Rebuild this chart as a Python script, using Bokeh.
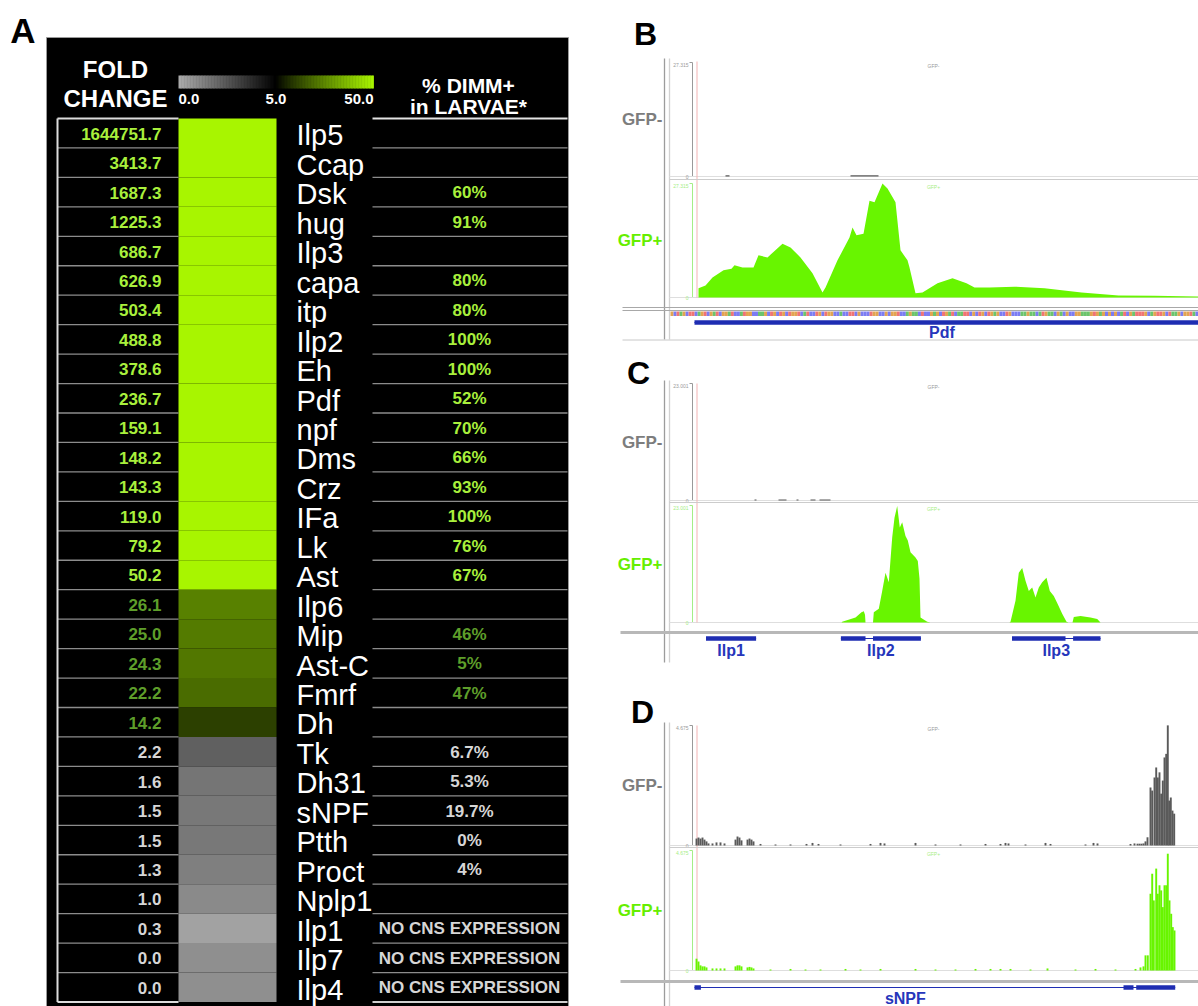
import numpy as np
from bokeh.plotting import figure
from bokeh.models import Range1d
from bokeh.core.properties import value
from bokeh.embed import file_html
from bokeh.resources import INLINE

# ---------------------------------------------------------------------------
# Panel A: fold change (GFP+ / GFP-) of neuropeptide transcripts
# ---------------------------------------------------------------------------
genes = ["Ilp5", "Ccap", "Dsk", "hug", "Ilp3", "capa", "itp", "Ilp2", "Eh", "Pdf",
         "npf", "Dms", "Crz", "IFa", "Lk", "Ast", "Ilp6", "Mip", "Ast-C", "Fmrf",
         "Dh", "Tk", "Dh31", "sNPF", "Ptth", "Proct", "Nplp1", "Ilp1", "Ilp7", "Ilp4"]
fold_change = [1644751.7, 3413.7, 1687.3, 1225.3, 686.7, 626.9, 503.4, 488.8, 378.6, 236.7,
               159.1, 148.2, 143.3, 119.0, 79.2, 50.2, 26.1, 25.0, 24.3, 22.2,
               14.2, 2.2, 1.6, 1.5, 1.5, 1.3, 1.0, 0.3, 0.0, 0.0]
pct_dimm_larvae = ["", "", "60%", "91%", "", "80%", "80%", "100%", "100%", "52%",
                   "70%", "66%", "93%", "100%", "76%", "67%", "", "46%", "5%", "47%",
                   "", "6.7%", "5.3%", "19.7%", "0%", "4%", "",
                   "NO CNS EXPRESSION", "NO CNS EXPRESSION", "NO CNS EXPRESSION"]
scale_ticks = [0.0, 5.0, 50.0]

# ---------------------------------------------------------------------------
# Panels B-D: RNA-seq read coverage (positions in bp from window start)
# ---------------------------------------------------------------------------
pdf_window = [0, 1008]
pdf_plus_pos = [8, 22, 36, 58, 74, 80, 96, 118, 128, 146, 176, 192, 212, 236, 256, 262,
                286, 310, 316, 324, 338, 350, 360, 376, 386, 402, 412, 426, 430, 442,
                456, 486, 516, 544, 560, 590, 640, 700, 774, 848, 920, 1008]
pdf_plus_cov = [2.2, 2.9, 4.8, 6.5, 6.9, 7.7, 7.2, 7.2, 10.1, 9.6, 12.9, 12.0, 9.6, 5.8,
                1.2, 2.4, 8.9, 14.4, 16.8, 14.9, 15.3, 23.2, 22.8, 27.3, 26.1, 22.8,
                11.3, 8.9, 7.2, 1.0, 1.2, 3.4, 4.6, 3.4, 2.4, 2.4, 2.6, 2.2, 1.2, 0.5,
                0.4, 0.25]
pdf_minus_start = [62, 312]
pdf_minus_end = [70, 368]
pdf_minus_cov = [0.3, 0.3]
pdf_seq = ("GCTAGCTTCAGTCGATCGGATCCATGGCCAAGCTGCTGCTGGTCATCCTGCTGGCCACCTTCGCCCTGGCC"
           "GCGGTCCAGAACTCCGAGCTGATCAATTCGCTGCTGAGCCTGCCCAAGAACATGAACGACGCCGGAAAGTG"
           "AGCGCGCATCGATTTGCAGTTGCTAAGCGGTAC")
pdf_seq_span = [-48, 1008]
pdf_gene_names = ["Pdf"]
pdf_gene_spans = [(-18, 1008)]
pdf_gene_exons = [[(-18, 1008)]]

ilp_window = [0, 5040]
ilp_plus_pos = [1470, 1477, 1610, 1670, 1693, 1705, 1710, 1785, 1793, 1843, 1877, 1910,
                1943, 1977, 2000, 2027, 2053, 2077, 2110, 2133, 2160, 2210, 2233, 2250,
                2260, 2327, 2360,
                3150, 3160, 3210, 3243, 3277, 3310, 3343, 3377, 3410, 3443, 3477, 3520,
                3553, 3593, 3633, 3677, 3720, 3740, 3780, 3793, 3860, 3960, 4027, 4060]
ilp_plus_cov = [0, 0.14, 1.0, 2.0, 2.2, 1.5, 0, 0, 2.0, 2.7, 6.2, 9.8, 7.9, 16.7, 20.6,
                22.9, 18.7, 19.7, 17.0, 16.1, 13.8, 12.8, 12.1, 8.6, 1.0, 0.14, 0,
                0, 0.14, 4.3, 9.8, 10.7, 8.2, 6.2, 6.9, 4.9, 6.9, 7.9, 8.8, 6.2, 5.2,
                3.6, 1.7, 0.14, 0, 0, 1.1, 1.3, 1.0, 0.7, 0]
ilp_minus_start = [600, 840, 1020, 1160, 1250]
ilp_minus_end = [620, 920, 1040, 1210, 1360]
ilp_minus_cov = [0.2, 0.2, 0.2, 0.2, 0.2]
ilp_gene_names = ["Ilp1", "Ilp2", "Ilp3"]
ilp_gene_spans = [(115, 616), (1464, 2264), (3175, 4060)]
ilp_gene_exons = [[(115, 616)], [(1464, 1710), (1785, 2264)], [(3175, 3710), (3786, 4060)]]

snpf_window = [0, 12096]
snpf_minus_pos = [48, 96, 144, 192, 240, 288, 336, 432, 528, 624, 720, 984, 1032, 1080,
                  1128, 1272, 1320, 1368, 1416, 1584, 1944, 2304, 2688, 2832, 2976, 3504,
                  4224, 4464, 4560, 5304, 5784, 6384, 6984, 7344, 7464, 7536, 7944, 8424,
                  8544, 9384, 9576, 9672, 10464, 10560, 10632, 10680, 10728, 10776, 10824,
                  10872, 10944, 10985, 11040, 11081, 11119, 11160, 11201, 11239, 11280,
                  11321, 11359, 11393, 11431, 11472, 11513]
snpf_minus_cov = [0.27, 0.31, 0.27, 0.31, 0.23, 0.16, 0.08, 0.08, 0.12, 0.12, 0.08, 0.23,
                  0.35, 0.31, 0.2, 0.23, 0.27, 0.23, 0.16, 0.06, 0.04, 0.04, 0.06, 0.1,
                  0.06, 0.04, 0.06, 0.1, 0.08, 0.1, 0.04, 0.04, 0.06, 0.06, 0.1, 0.08,
                  0.04, 0.1, 0.06, 0.04, 0.1, 0.08, 0.06, 0.08, 0.07, 0.07, 0.07, 0.08,
                  0.16, 0.32, 2.26, 2.14, 2.65, 3.04, 2.65, 2.85, 2.02, 2.53, 3.43, 3.57,
                  4.68, 1.75, 1.87, 1.36, 1.24]
snpf_plus_pos = [48, 96, 144, 192, 240, 288, 432, 528, 624, 720, 984, 1032, 1080, 1128,
                 1272, 1320, 1368, 1416, 1824, 2304, 2664, 3024, 3624, 3984, 4464, 5304,
                 5784, 6264, 6744, 7104, 7344, 7584, 8064, 8472, 9144, 9624, 10104, 10584,
                 10704, 10776, 10824, 10879, 10944, 10985, 11023, 11081, 11119, 11160,
                 11201, 11239, 11280, 11321, 11359, 11400, 11441, 11479, 11520]
snpf_plus_cov = [0.46, 0.35, 0.2, 0.16, 0.16, 0.12, 0.08, 0.08, 0.08, 0.08, 0.16, 0.2,
                 0.2, 0.16, 0.12, 0.14, 0.12, 0.08, 0.04, 0.06, 0.04, 0.04, 0.06, 0.04,
                 0.06, 0.06, 0.04, 0.04, 0.06, 0.06, 0.06, 0.06, 0.04, 0.08, 0.04, 0.06,
                 0.04, 0.06, 0.12, 0.16, 0.59, 0.59, 2.99, 3.77, 2.73, 3.97, 2.99, 3.32,
                 3.12, 2.47, 3.32, 3.32, 4.55, 2.73, 2.21, 1.69, 1.56]
snpf_bin = 46
snpf_gene_names = ["sNPF"]
snpf_gene_spans = [(-1416, 11537)]
snpf_gene_exons = [[(-1416, 154), (10296, 10536), (10601, 11537)]]

# ---------------------------------------------------------------------------
W, H = 1198, 1006
FONT = value("Liberation Sans")

p = figure(width=W, height=H, x_range=Range1d(0, W), y_range=Range1d(H, 0),
           output_backend="svg", toolbar_location=None, min_border=0,
           x_axis_type=None, y_axis_type=None, outline_line_color=None,
           background_fill_color="white", border_fill_color="white")
p.grid.visible = False


def put_text(xs, ys, texts, size, color, bold=False, align="left"):
    """Texts are placed by the vertical centre of their capitals."""
    p.text(x=list(xs), y=list(ys), text=list(texts), text_font=FONT,
           text_font_size=f"{size}px", text_font_style="bold" if bold else "normal",
           text_color=color, text_align=align, text_baseline="middle")


def hline(x0, x1, y, color, width=1.0):
    p.segment(x0=[x0], y0=[y], x1=[x1], y1=[y], line_color=color, line_width=width)


def vline(x, y0, y1, color, width=1.0):
    p.segment(x0=[x], y0=[y0], x1=[x], y1=[y1], line_color=color, line_width=width)


# ---------------- panel A ----------------
LIME = np.array([168, 245, 0])
ZERO_GREY = 172
NO_READS = "#8f8f8f"


def fold_rgb(v):
    """grey -> black over 0-5, black -> lime over 5-50"""
    if v < 5:
        g = int(round(ZERO_GREY * (1 - v / 5)))
        return (g, g, g)
    t = min((v - 5) / 45.0, 1.0) ** 0.85
    r, g, b = (LIME * t).round().astype(int)
    return (int(r), int(g), int(b))


def hexc(rgb):
    return "#%02x%02x%02x" % rgb


def label_color(v):
    if v >= 50:
        return "#a9f03c"
    if v >= 5:
        return "#5e9e2a"
    return "#d6d6d6"


put_text([22.5], [30], ["A"], 35, "black", bold=True, align="center")

# black table background
p.quad(left=[46], right=[568], top=[37], bottom=[1006], fill_color="black",
       line_color="#9a9a9a", line_width=1)

N = len(genes)
ROW0, ROW1 = 118.0, 1001.5
rh = (ROW1 - ROW0) / N
tops = ROW0 + rh * np.arange(N)
bots = tops + rh
mids = tops + rh / 2

HEAT_L, HEAT_R = 178, 276
cell_colors = [NO_READS if v == 0 else hexc(fold_rgb(v)) for v in fold_change]
p.quad(left=[HEAT_L] * N, right=[HEAT_R] * N, top=list(tops), bottom=list(bots),
       fill_color=cell_colors, line_color=None)

# column rules
LC_L, RC_L, RC_R = 57, 372, 567
p.segment(x0=[LC_L] * (N - 1), y0=list(bots[:-1]), x1=[HEAT_L] * (N - 1), y1=list(bots[:-1]),
          line_color="#8c8c8c", line_width=1.3)
p.segment(x0=[RC_L] * (N - 1), y0=list(bots[:-1]), x1=[RC_R] * (N - 1), y1=list(bots[:-1]),
          line_color="#8c8c8c", line_width=1.3)
hline(LC_L, HEAT_L, ROW0, "#dcdcdc", 2)
hline(LC_L, HEAT_L, ROW1, "#dcdcdc", 2)
vline(LC_L, ROW0, ROW1, "#dcdcdc", 2)
hline(RC_L, RC_R, ROW0, "#e4e4e4", 2)
hline(RC_L, RC_R, ROW1, "#cfcfcf", 2)

colors_txt = [label_color(v) for v in fold_change]
put_text([161] * N, list(mids + 0.5), [f"{v:.1f}" for v in fold_change], 17, colors_txt,
         bold=True, align="right")
put_text([296] * N, list(bots - 12.5), genes, 29, "white")
put_text([469] * N, list(mids + 0.5), pct_dimm_larvae, 17, colors_txt, bold=True, align="center")

# header
put_text([115, 115], [68.5, 97.5], ["FOLD", "CHANGE"], 24, "white", bold=True, align="center")
put_text([468, 468], [85, 106], ["% DIMM+", "in LARVAE*"], 21, "white", bold=True, align="center")

# colour scale: left half spans 0-5, right half spans 5-50
CB_L, CB_R, CB_T, CB_B = 178, 373, 75, 88
CB_M = (CB_L + CB_R) / 2


def cb_x(v):
    if v <= 5:
        return CB_L + v / 5 * (CB_M - CB_L)
    return CB_M + (v - 5) / 45 * (CB_R - CB_M)


def cb_v(x):
    if x <= CB_M:
        return (x - CB_L) / (CB_M - CB_L) * 5
    return 5 + (x - CB_M) / (CB_R - CB_M) * 45


n_cb = 130
edges = np.linspace(CB_L, CB_R, n_cb + 1)
centers = (edges[:-1] + edges[1:]) / 2
p.quad(left=list(edges[:-1]), right=list(edges[1:] + 0.4), top=[CB_T] * n_cb, bottom=[CB_B] * n_cb,
       fill_color=[hexc(fold_rgb(cb_v(c))) for c in centers], line_color=None)
aligns = ["left", "center", "right"]
for v, al in zip(scale_ticks, aligns):
    put_text([cb_x(v)], [98], [f"{v:.1f}"], 15, "white", bold=True, align=al)

# ---------------- panels B-D ----------------
X0, X1 = 694, 1198
GREY_COV = "#5a5a5a"
GREEN_COV = "#68f500"
GENE_BLUE = "#1e2db2"


def gx(pos, win):
    return X0 + (np.asarray(pos, float) - win[0]) / (win[1] - win[0]) * (X1 - X0)


def gy(val, track, vmax):
    top, base = track
    return base - np.asarray(val, float) / vmax * (base - top)


def panel_frame(letter, lx, ly, frame, neg_track, pos_track, vmax_label):
    put_text([lx], [ly], [letter], 32, "black", bold=True, align="center")
    vline(664, frame[0], frame[1], "#9c9c9c", 1.3)
    vline(669, frame[0], frame[1], "#d2d2d2", 1.3)
    for track, col, name, lab_col in ((neg_track, "#9a9a9a", "GFP-", "#7d7d7d"),
                                      (pos_track, "#a6ee86", "GFP+", "#66ee00")):
        top, base = track
        vline(692, top, base, col, 1)
        hline(689, 692, top, col, 1)
        hline(689, 692, base, col, 1)
        hline(669, X1, base, "#dedede", 1)
        put_text([688], [top + 2], [vmax_label], 5, col, align="right")
        put_text([688], [base], ["0"], 5, col, align="right")
        put_text([933], [top + 3], [name], 5, col, align="center")
        put_text([662], [(top + base) / 2], [name], 17, lab_col, bold=True, align="right")
    vline(696.5, frame[0] + 3, pos_track[1], "#f3b3b3", 1)


def draw_reads(starts, ends, cov, win, track, vmax, color):
    p.quad(left=list(gx(starts, win)), right=list(gx(ends, win)),
           top=list(gy(cov, track, vmax)), bottom=[track[1]] * len(cov),
           fill_color=color, line_color=None)


def draw_profile(pos, cov, win, track, vmax, color):
    p.varea(x=list(gx(pos, win)), y1=[track[1]] * len(pos), y2=list(gy(cov, track, vmax)),
            fill_color=color)


def draw_bars(pos, cov, width, win, track, vmax, color):
    pos = np.asarray(pos, float)
    p.quad(left=list(gx(pos - width / 2, win)), right=list(gx(pos + width / 2, win)),
           top=list(gy(cov, track, vmax)), bottom=[track[1]] * len(pos),
           fill_color=color, line_color=None)


def draw_genes(names, spans, exons, win, y, label_y, thick=4.5):
    for name, (s, e), ex in zip(names, spans, exons):
        cs, ce = max(s, win[0]), min(e, win[1])
        xs, xe = gx([cs, ce], win)
        hline(xs, xe, y, GENE_BLUE, 1.2)
        for a, b in ex:
            a, b = max(a, win[0]), min(b, win[1])
            xa, xb = gx([a, b], win)
            p.quad(left=[xa], right=[xb], top=[y - thick / 2], bottom=[y + thick / 2],
                   fill_color=GENE_BLUE, line_color=None)
        put_text([float(gx((s + e) / 2, win))], [label_y], [name], 16, "#2636bb",
                 bold=True, align="center")


# B: Pdf
B_NEG, B_POS, B_VMAX = (62, 176), (183, 297), 27.315
panel_frame("B", 645, 33, (58, 339), B_NEG, B_POS, "27.315")
hline(669, X1, 179, "#cccccc", 1)
draw_reads(pdf_minus_start, pdf_minus_end, pdf_minus_cov, pdf_window, B_NEG, B_VMAX, GREY_COV)
draw_profile(pdf_plus_pos, pdf_plus_cov, pdf_window, B_POS, B_VMAX, GREEN_COV)
hline(622, X1, 307, "#a8a8a8", 1)
hline(622, X1, 310, "#a8a8a8", 1)
base_colors = {"A": "#6cc46c", "C": "#7c7cf2", "G": "#e2a452", "T": "#f07474"}
seq_edges = np.linspace(pdf_seq_span[0], pdf_seq_span[1], len(pdf_seq) + 1)
p.quad(left=list(gx(seq_edges[:-1], pdf_window)), right=list(gx(seq_edges[1:], pdf_window)),
       top=[311] * len(pdf_seq), bottom=[315.5] * len(pdf_seq),
       fill_color=[base_colors[b] for b in pdf_seq], line_color=None)
draw_genes(pdf_gene_names, pdf_gene_spans, pdf_gene_exons, pdf_window, 322, 332)
hline(622, X1, 339.5, "#c8c8c8", 1)

# C: Ilp1-3
C_NEG, C_POS, C_VMAX = (383, 500), (505, 622), 23.001
panel_frame("C", 638, 372, (380, 662), C_NEG, C_POS, "23.001")
hline(669, X1, 502, "#cccccc", 1)
draw_reads(ilp_minus_start, ilp_minus_end, ilp_minus_cov, ilp_window, C_NEG, C_VMAX, GREY_COV)
draw_profile(ilp_plus_pos, ilp_plus_cov, ilp_window, C_POS, C_VMAX, GREEN_COV)
hline(620, X1, 632, "#b8b8b8", 3)
draw_genes(ilp_gene_names, ilp_gene_spans, ilp_gene_exons, ilp_window, 638, 649.5)

# D: sNPF
D_NEG, D_POS, D_VMAX = (725, 845), (850, 970), 4.675
panel_frame("D", 642, 711, (722, 1006), D_NEG, D_POS, "4.675")
hline(669, X1, 847, "#cccccc", 1)
draw_bars(snpf_minus_pos, snpf_minus_cov, snpf_bin, snpf_window, D_NEG, D_VMAX, GREY_COV)
draw_bars(snpf_plus_pos, snpf_plus_cov, snpf_bin, snpf_window, D_POS, D_VMAX, GREEN_COV)
hline(620, X1, 981, "#b8b8b8", 3)
draw_genes(snpf_gene_names, snpf_gene_spans, snpf_gene_exons, snpf_window, 987, 997.5)

open("out.html", "w").write(file_html(p, INLINE))
